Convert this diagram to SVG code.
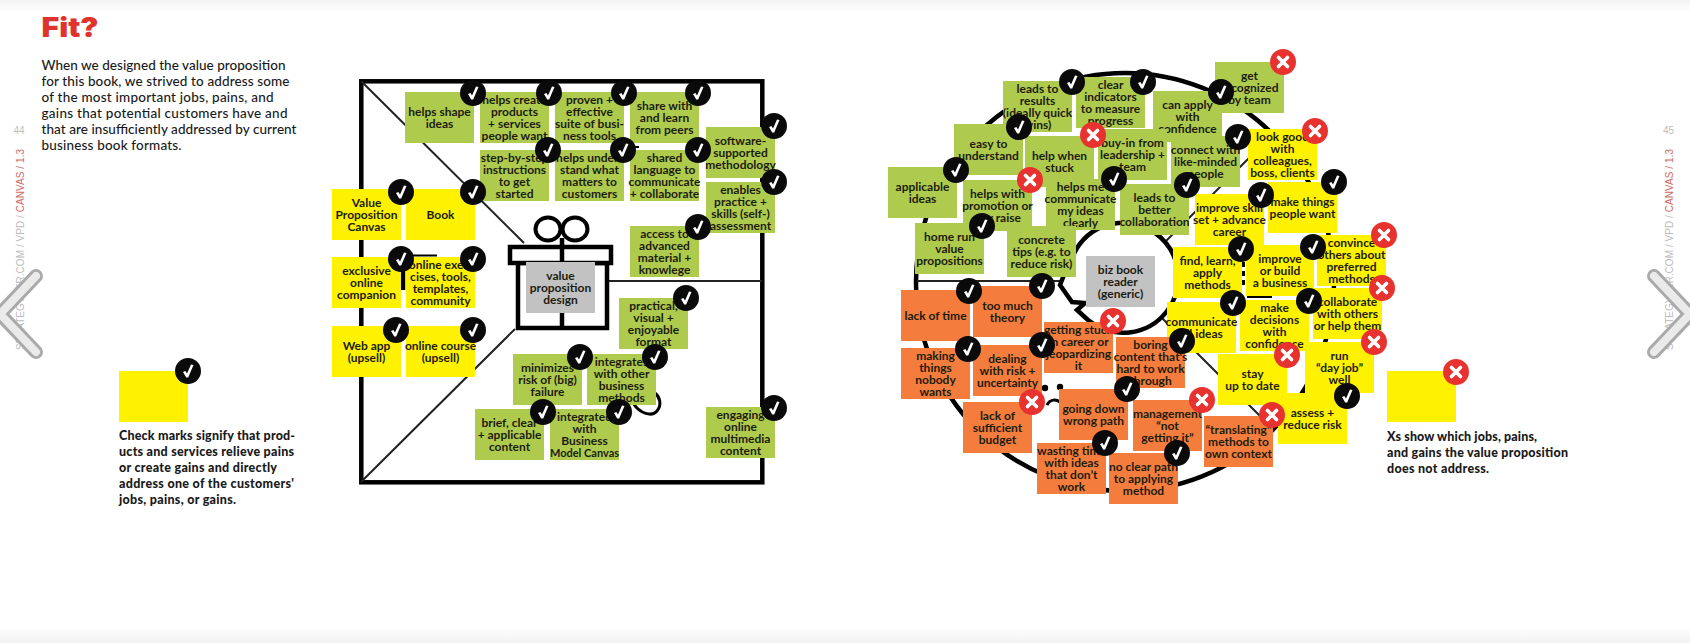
<svg xmlns="http://www.w3.org/2000/svg" width="1690" height="643" viewBox="0 0 1690 643">
<style>
.g{fill:#afcb4d}.y{fill:#fff200}.o{fill:#f47c3c}.k{fill:#c2c2c2}
.t{font-family:"Lato","Noto Sans",sans-serif;font-weight:700;font-size:12px;text-anchor:middle;fill:#1c1c10}
.b{font-family:"Lato","Noto Sans",sans-serif;font-size:13.5px;font-weight:500;fill:#1a1a1a}
.l{font-family:"Lato","Noto Sans",sans-serif;font-size:12.5px;font-weight:900;fill:#1a1a1a}
.s{font-family:"Liberation Sans",sans-serif;font-size:10px;fill:#bcbcbc}
.r{fill:#cf6a68}
.thin{fill:none;stroke:#222;stroke-width:2}
.thick{fill:none;stroke:#000;stroke-width:4.5}
</style>
<defs>
<linearGradient id="top" x1="0" y1="0" x2="0" y2="1"><stop offset="0" stop-color="#f3f3f3"/><stop offset="1" stop-color="#fff"/></linearGradient>
<linearGradient id="bot" x1="0" y1="0" x2="0" y2="1"><stop offset="0" stop-color="#fff"/><stop offset="1" stop-color="#f1f1f1"/></linearGradient>
<g id="chk"><circle r="13" fill="#0a0a0a"/><polygon points="-5,1 -2.6,0 -1,2.6 3,-6.5 5.5,-6 0.2,6.5 -1.8,6.5" fill="#fff"/></g>
<g id="xx"><circle r="13" fill="#e8322f"/><path d="M-4.5-4.500L4.500 4.500M4.500-4.500L-4.500 4.500" stroke="#fff" stroke-width="3.600" stroke-linecap="round"/></g>
</defs>
<rect width="1690" height="643" fill="#fff"/>
<rect width="1690" height="12" fill="url(#top)"/>
<rect y="628" width="1690" height="15" fill="url(#bot)"/>

<g id="page-left">
<text x="41.500" y="37" font-family="Inter,Lato,sans-serif" font-weight="900" font-size="27" fill="#df332e" textLength="57" lengthAdjust="spacingAndGlyphs">Fit?</text>
<text class="b" x="41.500" y="70" textLength="244">When we designed the value proposition</text>
<text class="b" x="41.500" y="86" textLength="248">for this book, we strived to address some</text>
<text class="b" x="41.500" y="102" textLength="232">of the most important jobs, pains, and</text>
<text class="b" x="41.500" y="118" textLength="246">gains that potential customers have and</text>
<text class="b" x="41.500" y="134" textLength="255">that are insufficiently addressed by current</text>
<text class="b" x="41.500" y="150" textLength="140">business book formats.</text>
<text class="s" x="13.500" y="134">44</text>
<text class="s" transform="translate(24,350) rotate(-90)" textLength="201">STRATEGYZER.COM / VPD / <tspan class="r">CANVAS / 1.3</tspan></text>
<text class="s" x="1663" y="134">45</text>
<text class="s" transform="translate(1673,350) rotate(-90)" textLength="201">STRATEGYZER.COM / VPD / <tspan class="r">CANVAS / 1.3</tspan></text>
</g>

<g id="chevrons" fill="none" stroke-linecap="round" stroke-linejoin="round">
<path d="M36 276L0 314L36 352" stroke="#aaa" stroke-width="14"/>
<path d="M36 276L0 314L36 352" stroke="#fff" stroke-width="8" stroke-opacity=".75"/>
<path d="M1654 276L1690 314L1654 352" stroke="#aaa" stroke-width="14"/>
<path d="M1654 276L1690 314L1654 352" stroke="#fff" stroke-width="8" stroke-opacity=".75"/>
</g>

<g id="connectors">
<rect x="361.300" y="81.300" width="401" height="401" class="thick"/>
<path class="thin" d="M361 81L524 243M361 482L515 329M608 281H762"/>
<path class="thick" d="M403 262V290"/>
<path fill="none" stroke="#000" stroke-width="2" d="M410 255.500H437M634 147H639"/>
<path fill="none" stroke="#000" stroke-width="3" stroke-linecap="round" d="M633 403C640 414 652 417 657 411C662 405 660 397 655 393"/>
<circle cx="1125" cy="282" r="209" class="thick"/>
<path class="thin" d="M917 281H1064M1165 242L1268 139M1160 316L1272 428"/>
<path fill="none" stroke="#000" stroke-width="4" d="M1243 262V288" stroke-dasharray="5 4"/>
<path fill="none" stroke="#000" stroke-width="4" d="M1247 296H1272"/>
<path fill="#fff" stroke="#000" stroke-width="4.500" d="M1088 320L1077 310L1085 303L1072 302L1060 285L1068 265L1077 248A55 55 0 1 1 1088 320Z"/>
</g>

<g id="gift">
<rect x="518" y="263" width="89" height="65" fill="#fff" stroke="#000" stroke-width="4.500"/>
<ellipse cx="548" cy="229" rx="12.500" ry="11.500" fill="none" stroke="#000" stroke-width="4"/>
<ellipse cx="575" cy="229" rx="12.500" ry="11.500" fill="none" stroke="#000" stroke-width="4"/>
<rect x="510" y="247" width="101" height="16" fill="#fff" stroke="#000" stroke-width="4.500"/>
<path fill="none" stroke="#000" stroke-width="4.500" d="M562 238V328"/>
</g>

<g id="head-face" fill="#000">
<circle cx="1045" cy="388" r="3.200"/><circle cx="1060" cy="387" r="3.200"/>
<path fill="none" stroke="#000" stroke-width="3" d="M1047 405C1050 399 1056 399 1060 402"/>
</g>

<g id="notes-left">
<g id="n-helps-shape" transform="translate(405,92)"><rect class="g" width="69" height="51"/><text class="t" y="23.850"><tspan x="34.500">helps shape</tspan><tspan x="34.500" dy="12.300">ideas</tspan></text></g>
<g id="n-helps-create" transform="translate(480,92)"><rect class="g" width="69" height="51"/><text class="t" y="11.550"><tspan x="34.500">helps create</tspan><tspan x="34.500" dy="12.300">products</tspan><tspan x="34.500" dy="12.300">+ services</tspan><tspan x="34.500" dy="12.300">people want</tspan></text></g>
<g id="n-proven" transform="translate(555,92)"><rect class="g" width="69" height="51"/><text class="t" y="11.550"><tspan x="34.500">proven +</tspan><tspan x="34.500" dy="12.300">effective</tspan><tspan x="34.500" dy="12.300">suite of busi-</tspan><tspan x="34.500" dy="12.300">ness tools</tspan></text></g>
<g id="n-share" transform="translate(630,92)"><rect class="g" width="69" height="51"/><text class="t" y="17.700"><tspan x="34.500">share with</tspan><tspan x="34.500" dy="12.300">and learn</tspan><tspan x="34.500" dy="12.300">from peers</tspan></text></g>
<g id="n-software" transform="translate(706,127)"><rect class="g" width="69" height="51"/><text class="t" y="17.700"><tspan x="34.500">software-</tspan><tspan x="34.500" dy="12.300">supported</tspan><tspan x="34.500" dy="12.300">methodology</tspan></text></g>
<g id="n-step" transform="translate(480,150)"><rect class="g" width="69" height="51"/><text class="t" y="11.550"><tspan x="34.500">step-by-step</tspan><tspan x="34.500" dy="12.300">instructions</tspan><tspan x="34.500" dy="12.300">to get</tspan><tspan x="34.500" dy="12.300">started</tspan></text></g>
<g id="n-understand" transform="translate(555,150)"><rect class="g" width="69" height="51"/><text class="t" y="11.550"><tspan x="34.500">helps under-</tspan><tspan x="34.500" dy="12.300">stand what</tspan><tspan x="34.500" dy="12.300">matters to</tspan><tspan x="34.500" dy="12.300">customers</tspan></text></g>
<g id="n-shared" transform="translate(630,150)"><rect class="g" width="69" height="51"/><text class="t" y="11.550"><tspan x="34.500">shared</tspan><tspan x="34.500" dy="12.300">language to</tspan><tspan x="34.500" dy="12.300">communicate</tspan><tspan x="34.500" dy="12.300">+ collaborate</tspan></text></g>
<g id="n-enables" transform="translate(706,182)"><rect class="g" width="69" height="51"/><text class="t" y="11.550"><tspan x="34.500">enables</tspan><tspan x="34.500" dy="12.300">practice +</tspan><tspan x="34.500" dy="12.300">skills (self-)</tspan><tspan x="34.500" dy="12.300">assessment</tspan></text></g>
<g id="n-access" transform="translate(630,226)"><rect class="g" width="69" height="51"/><text class="t" y="11.550"><tspan x="34.500">access to</tspan><tspan x="34.500" dy="12.300">advanced</tspan><tspan x="34.500" dy="12.300">material +</tspan><tspan x="34.500" dy="12.300">knowlege</tspan></text></g>
<g id="n-value-canvas" transform="translate(332,189)"><rect class="y" width="69" height="51"/><text class="t" y="17.700"><tspan x="34.500">Value</tspan><tspan x="34.500" dy="12.300">Proposition</tspan><tspan x="34.500" dy="12.300">Canvas</tspan></text></g>
<g id="n-book" transform="translate(406,189)"><rect class="y" width="69" height="51"/><text class="t" y="30"><tspan x="34.500">Book</tspan></text></g>
<g id="n-companion" transform="translate(332,257)"><rect class="y" width="69" height="51"/><text class="t" y="17.700"><tspan x="34.500">exclusive</tspan><tspan x="34.500" dy="12.300">online</tspan><tspan x="34.500" dy="12.300">companion</tspan></text></g>
<g id="n-exercises" transform="translate(406,257)"><rect class="y" width="69" height="51"/><text class="t" y="11.550"><tspan x="34.500">online exer-</tspan><tspan x="34.500" dy="12.300">cises, tools,</tspan><tspan x="34.500" dy="12.300">templates,</tspan><tspan x="34.500" dy="12.300">community</tspan></text></g>
<g id="n-webapp" transform="translate(332,326)"><rect class="y" width="69" height="51"/><text class="t" y="23.850"><tspan x="34.500">Web app</tspan><tspan x="34.500" dy="12.300">(upsell)</tspan></text></g>
<g id="n-course" transform="translate(406,326)"><rect class="y" width="69" height="51"/><text class="t" y="23.850"><tspan x="34.500">online course</tspan><tspan x="34.500" dy="12.300">(upsell)</tspan></text></g>
<g id="n-vpd" transform="translate(526,262)"><rect class="k" width="69" height="51"/><text class="t" y="17.700"><tspan x="34.500">value</tspan><tspan x="34.500" dy="12.300">proposition</tspan><tspan x="34.500" dy="12.300">design</tspan></text></g>
<g id="n-practical" transform="translate(619,298)"><rect class="g" width="69" height="51"/><text class="t" y="11.550"><tspan x="34.500">practical,</tspan><tspan x="34.500" dy="12.300">visual +</tspan><tspan x="34.500" dy="12.300">enjoyable</tspan><tspan x="34.500" dy="12.300">format</tspan></text></g>
<g id="n-minimizes" transform="translate(513,354)"><rect class="g" width="69" height="51"/><text class="t" y="17.700"><tspan x="34.500">minimizes</tspan><tspan x="34.500" dy="12.300">risk of (big)</tspan><tspan x="34.500" dy="12.300">failure</tspan></text></g>
<g id="n-integrates-other" transform="translate(587,354)"><rect class="g" width="69" height="51"/><text class="t" y="11.550"><tspan x="34.500">integrates</tspan><tspan x="34.500" dy="12.300">with other</tspan><tspan x="34.500" dy="12.300">business</tspan><tspan x="34.500" dy="12.300">methods</tspan></text></g>
<g id="n-brief" transform="translate(475,409)"><rect class="g" width="69" height="51"/><text class="t" y="17.700"><tspan x="34.500">brief, clear</tspan><tspan x="34.500" dy="12.300">+ applicable</tspan><tspan x="34.500" dy="12.300">content</tspan></text></g>
<g id="n-integrates-bmc" transform="translate(550,409)"><rect class="g" width="69" height="51"/><text class="t" y="11.550"><tspan x="34.500">integrated</tspan><tspan x="34.500" dy="12.300">with</tspan><tspan x="34.500" dy="12.300">Business</tspan><tspan x="34.500" dy="12.300" font-size="11">Model Canvas</tspan></text></g>
<g id="n-engaging" transform="translate(706,407)"><rect class="g" width="69" height="51"/><text class="t" y="11.550"><tspan x="34.500">engaging</tspan><tspan x="34.500" dy="12.300">online</tspan><tspan x="34.500" dy="12.300">multimedia</tspan><tspan x="34.500" dy="12.300">content</tspan></text></g>
</g>

<g id="notes-right">
<g id="r-results" transform="translate(1003,81)"><rect class="g" width="69" height="51"/><text class="t" y="11.550"><tspan x="34.500">leads to</tspan><tspan x="34.500" dy="12.300">results</tspan><tspan x="34.500" dy="12.300">(ideally quick</tspan><tspan x="34.500" dy="12.300">wins)</tspan></text></g>
<g id="r-clear" transform="translate(1076,77)"><rect class="g" width="69" height="51"/><text class="t" y="11.550"><tspan x="34.500">clear</tspan><tspan x="34.500" dy="12.300">indicators</tspan><tspan x="34.500" dy="12.300">to measure</tspan><tspan x="34.500" dy="12.300">progress</tspan></text></g>
<g id="r-apply" transform="translate(1153,91)"><rect class="g" width="69" height="51"/><text class="t" y="17.700"><tspan x="34.500">can apply</tspan><tspan x="34.500" dy="12.300">with</tspan><tspan x="34.500" dy="12.300">confidence</tspan></text></g>
<g id="r-recognized" transform="translate(1215,62)"><rect class="g" width="69" height="51"/><text class="t" y="17.700"><tspan x="34.500">get</tspan><tspan x="34.500" dy="12.300">recognized</tspan><tspan x="34.500" dy="12.300">by team</tspan></text></g>
<g id="r-easy" transform="translate(954,124)"><rect class="g" width="69" height="51"/><text class="t" y="23.850"><tspan x="34.500">easy to</tspan><tspan x="34.500" dy="12.300">understand</tspan></text></g>
<g id="r-stuck" transform="translate(1025,136)"><rect class="g" width="69" height="51"/><text class="t" y="23.850"><tspan x="34.500">help when</tspan><tspan x="34.500" dy="12.300">stuck</tspan></text></g>
<g id="r-buyin" transform="translate(1098,129)"><rect class="g" width="69" height="51"/><text class="t" y="17.700"><tspan x="34.500">buy-in from</tspan><tspan x="34.500" dy="12.300">leadership +</tspan><tspan x="34.500" dy="12.300">team</tspan></text></g>
<g id="r-connect" transform="translate(1171,136)"><rect class="g" width="69" height="51"/><text class="t" y="17.700"><tspan x="34.500">connect with</tspan><tspan x="34.500" dy="12.300">like-minded</tspan><tspan x="34.500" dy="12.300">people</tspan></text></g>
<g id="r-look" transform="translate(1248,129)"><rect class="y" width="69" height="51"/><text class="t" y="11.550"><tspan x="34.500">look good</tspan><tspan x="34.500" dy="12.300">with</tspan><tspan x="34.500" dy="12.300">colleagues,</tspan><tspan x="34.500" dy="12.300">boss, clients</tspan></text></g>
<g id="r-applicable" transform="translate(888,167)"><rect class="g" width="69" height="51"/><text class="t" y="23.850"><tspan x="34.500">applicable</tspan><tspan x="34.500" dy="12.300">ideas</tspan></text></g>
<g id="r-promotion" transform="translate(963,180)"><rect class="g" width="69" height="51"/><text class="t" y="17.700"><tspan x="34.500">helps with</tspan><tspan x="34.500" dy="12.300">promotion or</tspan><tspan x="34.500" dy="12.300">pay raise</tspan></text></g>
<g id="r-communicate" transform="translate(1046,179)"><rect class="g" width="69" height="51"/><text class="t" y="11.550"><tspan x="34.500">helps me</tspan><tspan x="34.500" dy="12.300">communicate</tspan><tspan x="34.500" dy="12.300">my ideas</tspan><tspan x="34.500" dy="12.300">clearly</tspan></text></g>
<g id="r-better" transform="translate(1120,184)"><rect class="g" width="69" height="51"/><text class="t" y="17.700"><tspan x="34.500">leads to</tspan><tspan x="34.500" dy="12.300">better</tspan><tspan x="34.500" dy="12.300">collaboration</tspan></text></g>
<g id="r-improve-skill" transform="translate(1195,194)"><rect class="y" width="69" height="51"/><text class="t" y="17.700"><tspan x="34.500">improve skill</tspan><tspan x="34.500" dy="12.300">set + advance</tspan><tspan x="34.500" dy="12.300">career</tspan></text></g>
<g id="r-make-things" transform="translate(1268,182)"><rect class="y" width="69" height="51"/><text class="t" y="23.850"><tspan x="34.500">make things</tspan><tspan x="34.500" dy="12.300">people want</tspan></text></g>
<g id="r-homerun" transform="translate(915,223)"><rect class="g" width="69" height="51"/><text class="t" y="17.700"><tspan x="34.500">home run</tspan><tspan x="34.500" dy="12.300">value</tspan><tspan x="34.500" dy="12.300">propositions</tspan></text></g>
<g id="r-concrete" transform="translate(1007,226)"><rect class="g" width="69" height="51"/><text class="t" y="17.700"><tspan x="34.500">concrete</tspan><tspan x="34.500" dy="12.300">tips (e.g. to</tspan><tspan x="34.500" dy="12.300">reduce risk)</tspan></text></g>
<g id="r-biz" transform="translate(1086,256)"><rect class="k" width="69" height="51"/><text class="t" y="17.700"><tspan x="34.500">biz book</tspan><tspan x="34.500" dy="12.300">reader</tspan><tspan x="34.500" dy="12.300">(generic)</tspan></text></g>
<g id="r-find" transform="translate(1173,247)"><rect class="y" width="69" height="51"/><text class="t" y="17.700"><tspan x="34.500">find, learn,</tspan><tspan x="34.500" dy="12.300">apply</tspan><tspan x="34.500" dy="12.300">methods</tspan></text></g>
<g id="r-business" transform="translate(1246,245)"><rect class="y" width="68" height="51"/><text class="t" y="17.700"><tspan x="34">improve</tspan><tspan x="34" dy="12.300">or build</tspan><tspan x="34" dy="12.300">a business</tspan></text></g>
<g id="r-convince" transform="translate(1317,235)"><rect class="y" width="69" height="51"/><text class="t" y="11.550"><tspan x="34.500">convince</tspan><tspan x="34.500" dy="12.300">others about</tspan><tspan x="34.500" dy="12.300">preferred</tspan><tspan x="34.500" dy="12.300">methods</tspan></text></g>
<g id="r-collaborate" transform="translate(1313,288)"><rect class="y" width="69" height="51"/><text class="t" y="17.700"><tspan x="34.500">collaborate</tspan><tspan x="34.500" dy="12.300">with others</tspan><tspan x="34.500" dy="12.300">or help them</tspan></text></g>
<g id="r-comm-all" transform="translate(1167,302)"><rect class="y" width="69" height="51"/><text class="t" y="23.850"><tspan x="34.500">communicate</tspan><tspan x="34.500" dy="12.300">all ideas</tspan></text></g>
<g id="r-decisions" transform="translate(1240,300)"><rect class="y" width="69" height="51"/><text class="t" y="11.550"><tspan x="34.500">make</tspan><tspan x="34.500" dy="12.300">decisions</tspan><tspan x="34.500" dy="12.300">with</tspan><tspan x="34.500" dy="12.300">confidence</tspan></text></g>
<g id="r-dayjob" transform="translate(1305,342)"><rect class="y" width="69" height="51"/><text class="t" y="17.700"><tspan x="34.500">run</tspan><tspan x="34.500" dy="12.300">“day job”</tspan><tspan x="34.500" dy="12.300">well</tspan></text></g>
<g id="r-stay" transform="translate(1218,354)"><rect class="y" width="69" height="51"/><text class="t" y="23.850"><tspan x="34.500">stay</tspan><tspan x="34.500" dy="12.300">up to date</tspan></text></g>
<g id="r-assess" transform="translate(1278,393)"><rect class="y" width="69" height="51"/><text class="t" y="23.850"><tspan x="34.500">assess +</tspan><tspan x="34.500" dy="12.300">reduce risk</tspan></text></g>
<g id="r-lacktime" transform="translate(901,290)"><rect class="o" width="69" height="51"/><text class="t" y="30"><tspan x="34.500">lack of time</tspan></text></g>
<g id="r-theory" transform="translate(973,286)"><rect class="o" width="69" height="51"/><text class="t" y="23.850"><tspan x="34.500">too much</tspan><tspan x="34.500" dy="12.300">theory</tspan></text></g>
<g id="r-getting" transform="translate(1044,322)"><rect class="o" width="69" height="51"/><text class="t" y="11.550"><tspan x="34.500">getting stuck</tspan><tspan x="34.500" dy="12.300">in career or</tspan><tspan x="34.500" dy="12.300">jeopardizing</tspan><tspan x="34.500" dy="12.300">it</tspan></text></g>
<g id="r-boring" transform="translate(1116,337)"><rect class="o" width="69" height="51"/><text class="t" y="11.550"><tspan x="34.500">boring</tspan><tspan x="34.500" dy="12.300">content that's</tspan><tspan x="34.500" dy="12.300">hard to work</tspan><tspan x="34.500" dy="12.300">through</tspan></text></g>
<g id="r-making" transform="translate(901,348)"><rect class="o" width="69" height="51"/><text class="t" y="11.550"><tspan x="34.500">making</tspan><tspan x="34.500" dy="12.300">things</tspan><tspan x="34.500" dy="12.300">nobody</tspan><tspan x="34.500" dy="12.300">wants</tspan></text></g>
<g id="r-dealing" transform="translate(973,345)"><rect class="o" width="69" height="51"/><text class="t" y="17.700"><tspan x="34.500">dealing</tspan><tspan x="34.500" dy="12.300">with risk +</tspan><tspan x="34.500" dy="12.300">uncertainty</tspan></text></g>
<g id="r-budget" transform="translate(963,402)"><rect class="o" width="69" height="51"/><text class="t" y="17.700"><tspan x="34.500">lack of</tspan><tspan x="34.500" dy="12.300">sufficient</tspan><tspan x="34.500" dy="12.300">budget</tspan></text></g>
<g id="r-going" transform="translate(1059,389)"><rect class="o" width="69" height="51"/><text class="t" y="23.850"><tspan x="34.500">going down</tspan><tspan x="34.500" dy="12.300">wrong path</tspan></text></g>
<g id="r-management" transform="translate(1133,400)"><rect class="o" width="69" height="51"/><text class="t" y="17.700"><tspan x="34.500">management</tspan><tspan x="34.500" dy="12.300">“not</tspan><tspan x="34.500" dy="12.300">getting it”</tspan></text></g>
<g id="r-translating" transform="translate(1204,416)"><rect class="o" width="69" height="51"/><text class="t" y="17.700"><tspan x="34.500">“translating”</tspan><tspan x="34.500" dy="12.300">methods to</tspan><tspan x="34.500" dy="12.300">own context</tspan></text></g>
<g id="r-wasting" transform="translate(1037,443)"><rect class="o" width="69" height="51"/><text class="t" y="11.550"><tspan x="34.500">wasting time</tspan><tspan x="34.500" dy="12.300">with ideas</tspan><tspan x="34.500" dy="12.300">that don’t</tspan><tspan x="34.500" dy="12.300">work</tspan></text></g>
<g id="r-noclear" transform="translate(1109,453)"><rect class="o" width="69" height="51"/><text class="t" y="17.700"><tspan x="34.500">no clear path</tspan><tspan x="34.500" dy="12.300">to applying</tspan><tspan x="34.500" dy="12.300">method</tspan></text></g>
</g>

<g id="legend-check">
<rect class="y" x="119" y="371" width="69" height="51"/>
<text class="l" x="119" y="440" textLength="176">Check marks signify that prod-</text>
<text class="l" x="119" y="456" textLength="175">ucts and services relieve pains</text>
<text class="l" x="119" y="472" textLength="158">or create gains and directly</text>
<text class="l" x="119" y="488" textLength="175">address one of the customers'</text>
<text class="l" x="119" y="504" textLength="117">jobs, pains, or gains.</text>
</g>
<g id="legend-x">
<rect class="y" x="1387" y="371" width="69" height="51"/>
<text class="l" x="1387" y="441" textLength="150">Xs show which jobs, pains,</text>
<text class="l" x="1387" y="457" textLength="181">and gains the value proposition</text>
<text class="l" x="1387" y="473" textLength="102">does not address.</text>
</g>

<g id="marks">
<use href="#chk" x="473" y="93"/><use href="#chk" x="549" y="93"/><use href="#chk" x="624" y="93"/><use href="#chk" x="698" y="93"/><use href="#chk" x="774" y="126"/><use href="#chk" x="548" y="150"/><use href="#chk" x="623" y="150"/><use href="#chk" x="698" y="150"/><use href="#chk" x="774" y="182"/><use href="#chk" x="698" y="227"/><use href="#chk" x="401" y="192"/><use href="#chk" x="473" y="192"/><use href="#chk" x="401" y="259"/><use href="#chk" x="473" y="259"/><use href="#chk" x="396" y="330"/><use href="#chk" x="473" y="330"/><use href="#chk" x="686" y="298"/><use href="#chk" x="580" y="357"/><use href="#chk" x="655" y="357"/><use href="#chk" x="543" y="412"/><use href="#chk" x="619" y="412"/><use href="#chk" x="774" y="408"/>
<use href="#chk" x="188" y="371"/>
<use href="#chk" x="1072" y="82"/><use href="#chk" x="1143" y="82"/><use href="#chk" x="1221" y="92"/><use href="#xx" x="1283" y="62"/><use href="#chk" x="1019" y="127"/><use href="#xx" x="1093" y="135"/><use href="#chk" x="1238" y="137"/><use href="#xx" x="1315" y="131"/><use href="#chk" x="956" y="170"/><use href="#xx" x="1030" y="180"/><use href="#chk" x="1114" y="179"/><use href="#chk" x="1187" y="185"/><use href="#chk" x="1261" y="195"/><use href="#chk" x="1334" y="182"/><use href="#chk" x="982" y="226"/><use href="#chk" x="969" y="291"/><use href="#chk" x="1042" y="286"/><use href="#chk" x="1241" y="249"/><use href="#chk" x="1313" y="247"/><use href="#xx" x="1384" y="235"/><use href="#xx" x="1382" y="288"/><use href="#chk" x="1233" y="303"/><use href="#chk" x="1309" y="301"/><use href="#chk" x="968" y="349"/><use href="#chk" x="1042" y="345"/><use href="#xx" x="1113" y="321"/><use href="#chk" x="1182" y="341"/><use href="#xx" x="1287" y="355"/><use href="#xx" x="1374" y="342"/><use href="#chk" x="1347" y="396"/><use href="#xx" x="1272" y="415"/><use href="#xx" x="1202" y="400"/><use href="#xx" x="1032" y="402"/><use href="#chk" x="1127" y="389"/><use href="#chk" x="1105" y="443"/><use href="#chk" x="1177" y="453"/>
<use href="#xx" x="1456" y="372"/>
</g>
</svg>
